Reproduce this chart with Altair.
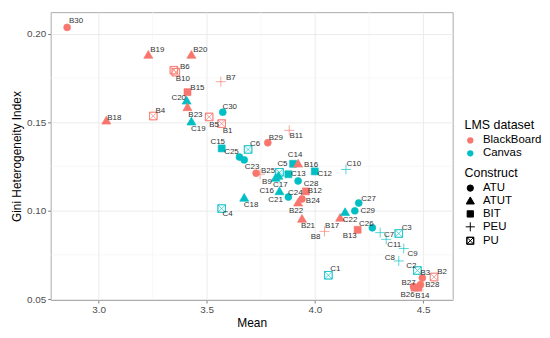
import altair as alt
import pandas as pd

FONT = "Liberation Sans"

# ---- data ----
ids = ["B30", "B19", "B20", "B6", "B10", "B7", "B15", "C20", "B23", "C19",
       "B18", "B4", "C30", "B5", "B1", "B11", "B29", "C6", "C15", "C25",
       "C23", "B25", "B9", "C5", "C17", "C16", "C13", "C14", "B16", "C12",
       "C28", "B12", "C21", "C24", "C18", "C4", "B24", "B22", "B21", "B8",
       "B17", "C22", "C10", "C27", "C29", "B13", "C26", "C7", "C3", "C11",
       "C9", "C8", "C2", "B3", "B2", "B28", "B27", "B26", "B14", "C1"]
mean_vals = [2.855, 3.230, 3.429, 3.348, 3.357, 3.565, 3.411, 3.407, 3.411, 3.429,
             3.036, 3.253, 3.574, 3.511, 3.569, 3.881, 3.782, 3.691, 3.569, 3.651,
             3.673, 3.728, 3.746, 3.836, 3.831, 3.818, 3.877, 3.899, 3.922, 3.999,
             3.922, 3.958, 3.836, 3.877, 3.673, 3.569, 3.940, 3.922, 3.940, 4.044,
             4.116, 4.139, 4.143, 4.202, 4.184, 4.197, 4.265, 4.301, 4.387, 4.329,
             4.410, 4.387, 4.473, 4.496, 4.550, 4.487, 4.455, 4.460, 4.478, 4.062]
gini_vals = [0.2036, 0.1880, 0.1880, 0.1794, 0.1783, 0.1729, 0.1670, 0.1621, 0.1584, 0.1503,
             0.1508, 0.1535, 0.1557, 0.1530, 0.1492, 0.1454, 0.1384, 0.1346, 0.1352, 0.1303,
             0.1287, 0.1212, 0.1206, 0.1217, 0.1196, 0.1185, 0.1206, 0.1265, 0.1265, 0.1222,
             0.1168, 0.1109, 0.1109, 0.1077, 0.1072, 0.1012, 0.1066, 0.1045, 0.0953, 0.0883,
             0.0959, 0.0991, 0.1233, 0.1043, 0.0999, 0.0892, 0.0903, 0.0876, 0.0871, 0.0838,
             0.0786, 0.0716, 0.0662, 0.0620, 0.0625, 0.0581, 0.0571, 0.0565, 0.0565, 0.0635]
construct = ["ATU", "ATUT", "ATUT", "PU", "PU", "PEU", "BIT", "ATUT", "ATUT", "ATUT",
             "ATUT", "PU", "ATU", "PU", "PU", "PEU", "ATU", "PU", "BIT", "ATU",
             "ATU", "ATU", "PEU", "PU", "ATUT", "ATUT", "BIT", "BIT", "ATUT", "BIT",
             "ATU", "BIT", "ATUT", "ATU", "ATUT", "PU", "ATU", "ATUT", "ATUT", "PEU",
             "ATUT", "ATUT", "PEU", "ATU", "ATU", "BIT", "ATU", "PEU", "PU", "PEU",
             "PEU", "PEU", "PU", "ATU", "PU", "ATU", "ATU", "BIT", "BIT", "PU"]
# label nudges (pixels) imitating the repelled labels
label_dx = [9, 9, 9, 11, 7, 10, 10, -8, 8, 7,
            8, 7, 7, 5, 6, 7, 8, 7, -4, -8,
            8, 12, 7, 3, 2, -9, 10, 2, 13, 10,
            13, 9, -4, 7, 7, 6, 11, -2, 6, -9,
            -8, 5, 8, 10, 13, -8, -6, 9, 8, 8,
            9, -9, -6, 3, 8, 12, -5, -7, 4, 7]
label_dy = [-6, -5, -5, -3, 7, -4, -4, -3, 8, 7,
            -3, -5, -5, 8, 7, 6, -5, -5, -6, -5,
            7, -2, 8, -8, 9, 13, 0, -9, 1, 3,
            3, 0, 9, -4, 7, 6, 2, 8, 7, 6,
            8, 8, -5, -4, 0, 6, -4, 2, -6, 6,
            6, -3, -4, -5, -5, 0, -4, 7, 8, -6]

lms = ["BlackBoard" if s.startswith("B") else "Canvas" for s in ids]

x_major = [3.0, 3.5, 4.0, 4.5]
x_minor = [3.25, 3.75, 4.25]
y_major = [0.05, 0.10, 0.15, 0.20]
y_minor = [0.075, 0.125, 0.175]
x_range = [2.779, 4.636]
y_range = [0.0495, 0.2122]

lms_levels = ["BlackBoard", "Canvas"]
lms_colors = ["#F8766D", "#00BFC4"]
construct_levels = ["ATU", "ATUT", "BIT", "PEU", "PU"]
construct_shapes = [
    "circle",
    "M0,-1.3L1.3,0.95L-1.3,0.95Z",
    "M-1,-1H1V1H-1Z",
    "M-1.45,0H1.45M0,-1.45V1.45",
    "M-1.1,-1.1H1.1V1.1H-1.1Z M-1.08,-1.08V1.08H1.08V-1.08Z M-1.1,-1.1L1.1,1.1M-1.1,1.1L1.1,-1.1",
]

df = pd.DataFrame({
    "ID": ids,
    "Mean": mean_vals,
    "Gini Heterogeneity Index": gini_vals,
    "Construct": construct,
    "LMS dataset": lms,
    "dx": label_dx,
    "dy": label_dy,
})

xs = alt.Scale(domain=x_range, nice=False, zero=False)
ys = alt.Scale(domain=y_range, nice=False, zero=False)
xax = alt.Axis(values=x_major, format=".1f", title="Mean")
yax = alt.Axis(values=y_major, format=".2f", title="Gini Heterogeneity Index")
cscale = alt.Scale(domain=lms_levels, range=lms_colors)
sscale = alt.Scale(domain=construct_levels, range=construct_shapes)

minor_v = alt.Chart(pd.DataFrame({"Mean": x_minor})).mark_rule(
    color="#F4F4F4", strokeWidth=0.7
).encode(x=alt.X("Mean:Q", scale=xs, axis=xax))

minor_h = alt.Chart(pd.DataFrame({"Gini Heterogeneity Index": y_minor})).mark_rule(
    color="#F4F4F4", strokeWidth=0.7
).encode(y=alt.Y("Gini Heterogeneity Index:Q", scale=ys, axis=yax))

base = alt.Chart(df)

points = base.mark_point(filled=True, opacity=1, size=49, strokeWidth=0.65).encode(
    x=alt.X("Mean:Q", scale=xs, axis=xax),
    y=alt.Y("Gini Heterogeneity Index:Q", scale=ys, axis=yax),
    color=alt.Color("LMS dataset:N", scale=cscale,
                    legend=alt.Legend(title="LMS dataset", orient="none",
                                      legendX=417, legendY=108, symbolType="circle",
                                      symbolSize=40, symbolStrokeWidth=0)),
    stroke=alt.Stroke("LMS dataset:N", scale=cscale, legend=None),
    shape=alt.Shape("Construct:N", scale=sscale,
                    legend=alt.Legend(title="Construct", orient="none",
                                      legendX=417, legendY=156, symbolSize=40,
                                      symbolFillColor="black", symbolStrokeColor="black",
                                      symbolStrokeWidth=1)),
)

texts = base.mark_text(
    font=FONT, fontSize=8, align="center", baseline="middle", color="#333333",
    dx=alt.ExprRef("datum.dx"), dy=alt.ExprRef("datum.dy"),
).encode(
    x=alt.X("Mean:Q", scale=xs, axis=xax),
    y=alt.Y("Gini Heterogeneity Index:Q", scale=ys, axis=yax),
    text="ID:N",
)

chart = alt.layer(minor_v, minor_h, points, texts).properties(
    width=405, height=290,
    padding={"left": 2, "top": 2, "right": 0, "bottom": 0},
).configure_view(
    stroke="#AAAAAA", strokeWidth=1
).configure_axis(
    labelFont=FONT, titleFont=FONT, labelFontSize=10, labelColor="#4D4D4D",
    titleFontSize=12, titleColor="black", titleFontWeight="normal",
    tickColor="#7F7F7F", tickSize=3, domain=False,
    gridColor="#EBEBEB", gridWidth=1, labelPadding=2, titlePadding=3,
).configure_legend(
    titleFont=FONT, labelFont=FONT, titleFontSize=12.5, labelFontSize=11.5,
    titleFontWeight="normal", titleColor="black", labelColor="black",
    rowPadding=0, padding=0, titlePadding=3, labelOffset=7,
)

chart.save("out.html", embed_options={"renderer": "svg", "actions": False})
